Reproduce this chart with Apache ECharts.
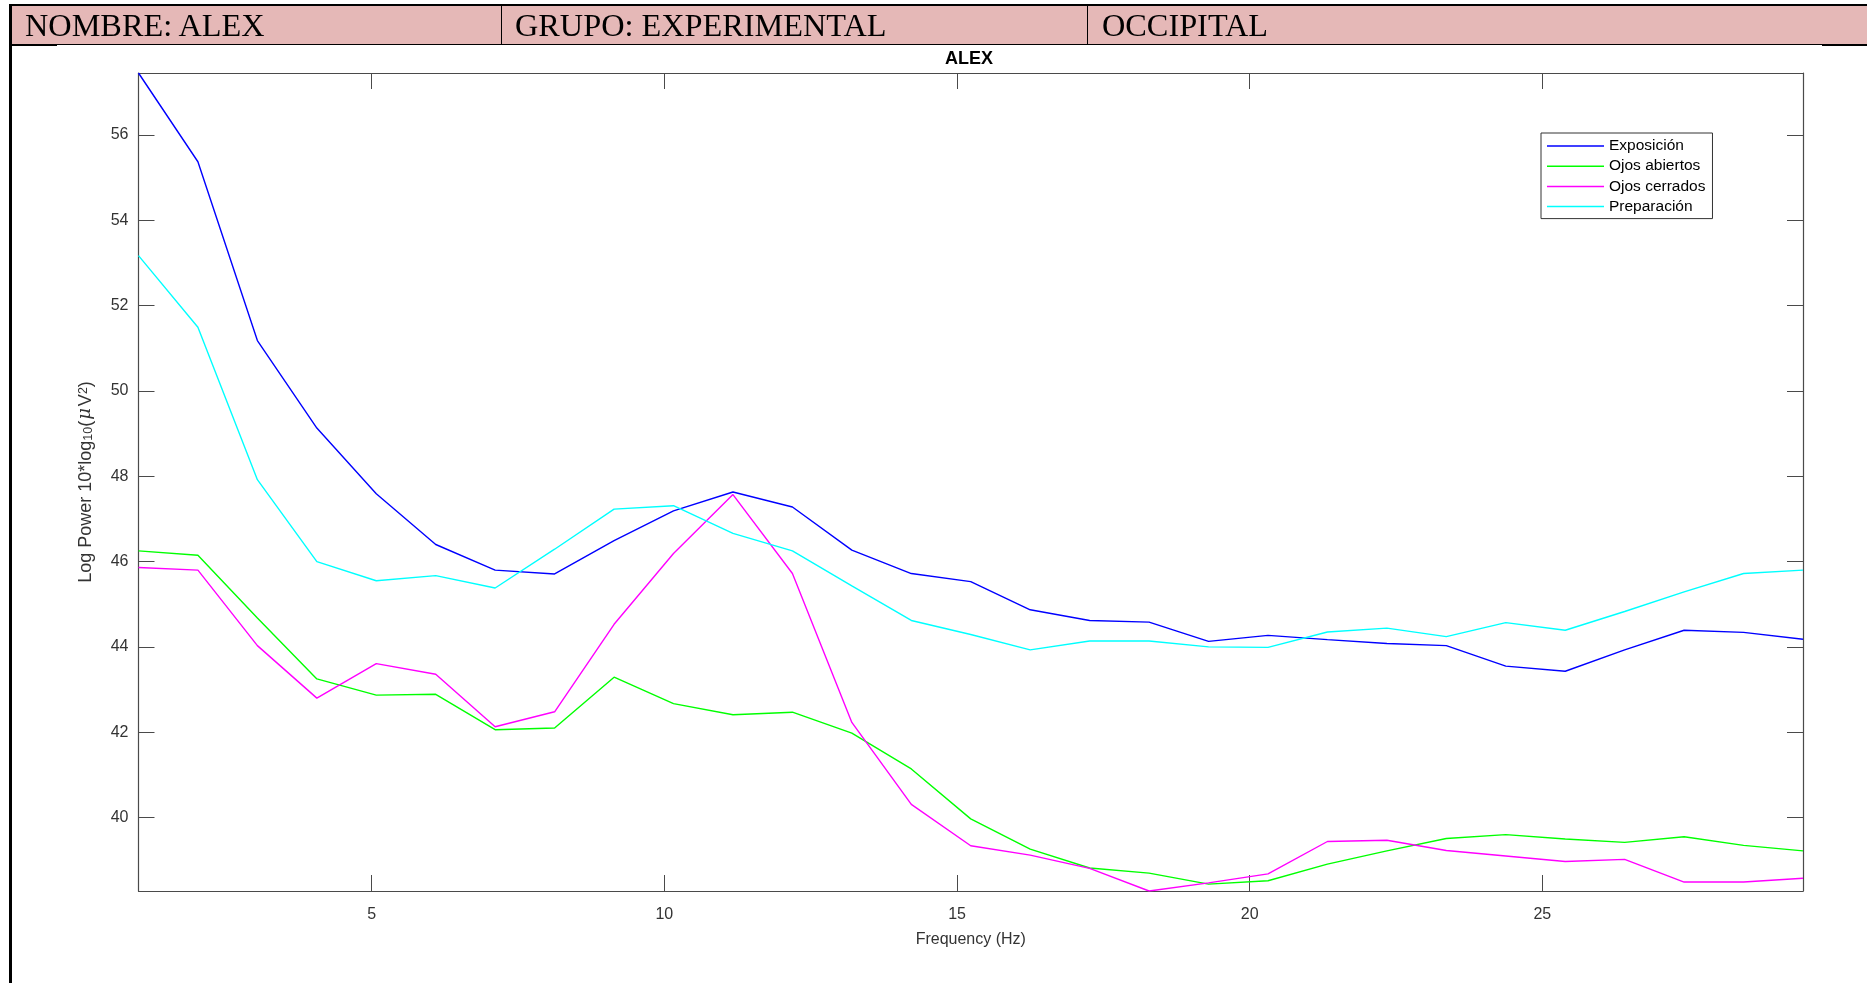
<!DOCTYPE html>
<html>
<head>
<meta charset="utf-8">
<script src="https://cdn.jsdelivr.net/npm/echarts@6/dist/echarts.min.js"></script>
<style>
  html, body { margin: 0; padding: 0; background: #fff; }
  body { width: 1867px; height: 983px; position: relative; overflow: hidden; }
  #chart { position: absolute; left: 0; top: 0; width: 1867px; height: 983px; }
  .hdr { position: absolute; top: 6px; height: 38px; background: #E5B8B7; }
  .hdr span { position: absolute; top: 0px; font-family: "Liberation Serif", "Times New Roman", serif; font-size: 32.3px; line-height: 38px; color: #000; white-space: nowrap; }
  .ln { position: absolute; background: #000; }
</style>
</head>
<body>
<div id="chart"></div>
<div class="hdr" style="left:11px; width:1856px;"></div>
<div class="hdr" style="left:11px; width:490px; background:transparent;"><span style="left:14px;">NOMBRE: ALEX</span></div>
<div class="hdr" style="left:502px; width:585px; background:transparent;"><span style="left:13px;">GRUPO: EXPERIMENTAL</span></div>
<div class="hdr" style="left:1088px; width:779px; background:transparent;"><span style="left:14px;">OCCIPITAL</span></div>
<div class="ln" style="left:9px; top:4px; width:1858px; height:2px;"></div>
<div class="ln" style="left:9px; top:43.5px; width:1858px; height:1.2px;"></div>
<div class="ln" style="left:9px; top:43.5px; width:48px; height:2px;"></div>
<div class="ln" style="left:1822px; top:43.5px; width:45px; height:2px;"></div>
<div class="ln" style="left:9px; top:4px; width:2.5px; height:979px;"></div>
<div class="ln" style="left:500.5px; top:6px; width:1.5px; height:38px;"></div>
<div class="ln" style="left:1086.5px; top:6px; width:1.5px; height:38px;"></div>
<script>
// Frequency bins (Hz)
var freqs = [1.016, 2.031, 3.047, 4.063, 5.078, 6.094, 7.109, 8.125, 9.141, 10.156,
             11.172, 12.188, 13.203, 14.219, 15.234, 16.250, 17.266, 18.281, 19.297, 20.313,
             21.328, 22.344, 23.359, 24.375, 25.391, 26.406, 27.422, 28.438, 29.453];
var seriesNames = ['Exposición', 'Ojos abiertos', 'Ojos cerrados', 'Preparación'];
var exposicion = [57.45, 55.37, 51.18, 49.13, 47.59, 46.40, 45.80, 45.71, 46.49, 47.19,
                  47.63, 47.28, 46.27, 45.72, 45.53, 44.87, 44.62, 44.58, 44.13, 44.27,
                  44.17, 44.08, 44.03, 43.55, 43.43, 43.93, 44.39, 44.34, 44.18];
var ojosAbiertos = [46.25, 46.15, 44.68, 43.25, 42.87, 42.89, 42.06, 42.10, 43.29, 42.67,
                    42.41, 42.47, 41.98, 41.14, 39.97, 39.26, 38.82, 38.70, 38.44, 38.52,
                    38.91, 39.22, 39.51, 39.60, 39.50, 39.42, 39.55, 39.35, 39.22];
var ojosCerrados = [45.86, 45.80, 44.03, 42.80, 43.61, 43.36, 42.13, 42.48, 44.53, 46.19,
                    47.57, 45.72, 42.23, 40.31, 39.34, 39.12, 38.81, 38.28, 38.47, 38.68,
                    39.44, 39.47, 39.23, 39.10, 38.97, 39.02, 38.49, 38.49, 38.58];
var preparacion = [53.17, 51.49, 47.92, 46.00, 45.55, 45.67, 45.38, 46.29, 47.23, 47.31,
                   46.66, 46.25, 45.43, 44.62, 44.29, 43.93, 44.14, 44.14, 44.00, 43.99,
                   44.35, 44.44, 44.24, 44.57, 44.39, 44.83, 45.29, 45.72, 45.80];
var xTicks = [5, 10, 15, 20, 25];
var yTicks = [40, 42, 44, 46, 48, 50, 52, 54, 56];
var xMin = 1.016, xMax = 29.453, yMin = 38.28, yMax = 57.45;
var colors = ['#0000ff', '#00ff00', '#ff00ff', '#00ffff'];
var allData = [exposicion, ojosAbiertos, ojosCerrados, preparacion];

function pairs(vals) { return vals.map(function (v, i) { return [freqs[i], v]; }); }

var axisColor = '#4a4a4a';
var font = '"Liberation Sans", Arial, sans-serif';

var chart = echarts.init(document.getElementById('chart'), null, { renderer: 'canvas' });
chart.setOption({
  animation: false,
  backgroundColor: 'transparent',
  graphic: [{
    type: 'text', x: 969, y: 50, z: 10,
    style: { text: 'ALEX', font: 'bold 18px ' + font, fill: '#000', textAlign: 'center', textVerticalAlign: 'top' }
  }],
  grid: { left: 138.5, top: 73, width: 1664.5, height: 818, show: false, containLabel: false },
  legend: {
    orient: 'vertical', left: 1541, top: 133,
    data: seriesNames,
    icon: 'rect', itemWidth: 57, itemHeight: 1.5, itemGap: 4.2,
    padding: [5, 7, 4, 6],
    backgroundColor: '#fff', borderColor: '#333', borderWidth: 1,
    textStyle: { fontFamily: font, fontSize: 15.5, color: '#000', lineHeight: 15 }
  },
  xAxis: [{
    type: 'value', min: xMin, max: xMax, position: 'bottom',
    name: 'Frequency (Hz)', nameLocation: 'middle', nameGap: 41,
    nameTextStyle: { fontFamily: font, fontSize: 16, color: '#333' },
    axisLine: { show: true, onZero: false, lineStyle: { color: axisColor, width: 1.2 } },
    axisTick: { show: true, inside: true, length: 16, customValues: xTicks, lineStyle: { color: axisColor, width: 1 } },
    axisLabel: { show: true, customValues: xTicks, margin: 16, fontFamily: font, fontSize: 16, color: '#333' },
    splitLine: { show: false }
  }, {
    type: 'value', min: xMin, max: xMax, position: 'top',
    axisLine: { show: true, onZero: false, lineStyle: { color: axisColor, width: 1.2 } },
    axisTick: { show: true, inside: true, length: 16, customValues: xTicks, lineStyle: { color: axisColor, width: 1 } },
    axisLabel: { show: false },
    splitLine: { show: false }
  }],
  yAxis: [{
    type: 'value', min: yMin, max: yMax, position: 'left',
    name: 'Log Power 10*log{sub|10}({mu|μ}V{sup|2})',
    nameLocation: 'middle', nameGap: 42, nameRotate: 90,
    nameTextStyle: {
      fontFamily: font, fontSize: 18, color: '#333', lineHeight: 18, verticalAlign: 'middle',
      rich: {
        sub: { fontFamily: font, fontSize: 12.5, color: '#333', lineHeight: 12.5, padding: [10, 0, 0, 0], verticalAlign: 'bottom' },
        sup: { fontFamily: font, fontSize: 12.5, color: '#333', lineHeight: 12.5, padding: [0, 0, 10, 0], verticalAlign: 'top' },
        mu: { fontFamily: '"DejaVu Serif", serif', fontStyle: 'italic', fontSize: 18, color: '#333', lineHeight: 18, padding: [0, 2, 0, 1] }
      }
    },
    axisLine: { show: true, onZero: false, lineStyle: { color: axisColor, width: 1.2 } },
    axisTick: { show: true, inside: true, length: 16, customValues: yTicks, lineStyle: { color: axisColor, width: 1 } },
    axisLabel: { show: true, customValues: yTicks, margin: 10, fontFamily: font, fontSize: 16, color: '#333' },
    splitLine: { show: false }
  }, {
    type: 'value', min: yMin, max: yMax, position: 'right',
    axisLine: { show: true, onZero: false, lineStyle: { color: axisColor, width: 1.2 } },
    axisTick: { show: true, inside: true, length: 16, customValues: yTicks, lineStyle: { color: axisColor, width: 1 } },
    axisLabel: { show: false },
    splitLine: { show: false }
  }],
  series: seriesNames.map(function (name, i) {
    return {
      name: name, type: 'line', xAxisIndex: 0, yAxisIndex: 0,
      data: pairs(allData[i]), showSymbol: false, symbol: 'none',
      lineStyle: { color: colors[i], width: 1.4 },
      itemStyle: { color: colors[i] },
      clip: true
    };
  })
});
</script>
</body>
</html>
